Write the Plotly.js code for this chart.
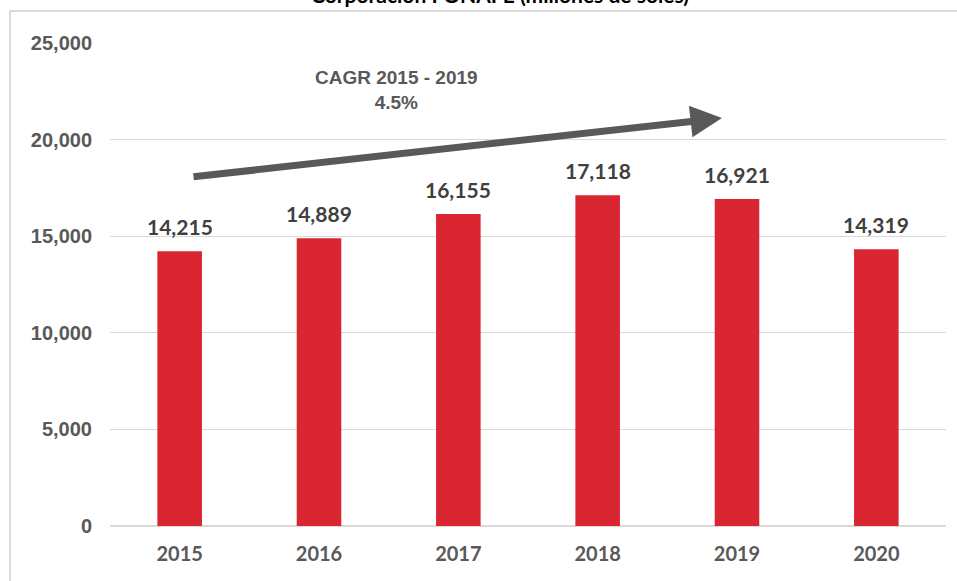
<!DOCTYPE html>
<html>
<head>
<meta charset="utf-8">
<script src="https://cdn.plot.ly/plotly-3.0.1.min.js"></script>
<style>
html,body{margin:0;padding:0;background:#fff;}
#chart{width:957px;height:581px;}
</style>
</head>
<body>
<div id="chart"></div>
<script>
const years = ["2015", "2016", "2017", "2018", "2019", "2020"];
const values = [14215, 14889, 16155, 17118, 16921, 14319];
const valueLabels = ["14,215", "14,889", "16,155", "17,118", "16,921", "14,319"];
const yTicks = [0, 5000, 10000, 15000, 20000, 25000];
const yTickLabels = ["0", "5,000", "10,000", "15,000", "20,000", "25,000"];
const titleText = "Corporación FONAFE (millones de soles)";
const cagrText = "CAGR 2015 - 2019<br>4.5%";

const humanist = "Lato, 'Open Sans', sans-serif";
const arial = "Arial, 'Liberation Sans', sans-serif";

const trace = {
  type: "bar",
  x: years,
  y: values,
  marker: {color: "#DA2532"},
  hoverinfo: "skip"
};

const annotations = years.map((yr, i) => ({
  x: i, y: values[i], xref: "x", yref: "y",
  text: valueLabels[i], showarrow: false,
  yanchor: "bottom", yshift: 10,
  font: {family: humanist, size: 21, color: "#404040", weight: "bold"}
}));

annotations.push({
  xref: "paper", yref: "paper", x: (722 - 110) / 836, y: (526 - 118) / 483,
  ax: -530, ay: 59, axref: "pixel", ayref: "pixel",
  showarrow: true, arrowhead: 2, arrowsize: 0.9, arrowwidth: 7,
  arrowcolor: "#58595B", text: ""
});
annotations.push({
  xref: "paper", yref: "paper", x: (396 - 110) / 836, y: (526 - 90) / 483,
  text: cagrText, showarrow: false, yanchor: "middle",
  font: {family: arial, size: 19, color: "#595959", weight: "bold"}
});
annotations.push({
  xref: "paper", yref: "paper", x: (500 - 110) / 836, y: (526 - 9) / 483,
  text: titleText, showarrow: false, yanchor: "bottom",
  font: {family: humanist, size: 21, color: "#000000", weight: "bold"}
});

const layout = {
  width: 957, height: 581,
  margin: {l: 110, r: 11, t: 43, b: 55},
  paper_bgcolor: "#ffffff", plot_bgcolor: "#ffffff",
  showlegend: false,
  bargap: 0.68,
  xaxis: {
    type: "category",
    range: [-0.5, years.length - 0.5],
    showgrid: false, showline: false, zeroline: false,
    ticks: "", ticklabelstandoff: 14,
    tickfont: {family: humanist, size: 20, color: "#595959", weight: "bold"}
  },
  yaxis: {
    range: [0, 25000],
    tickvals: yTicks, ticktext: yTickLabels,
    showgrid: true, gridcolor: "#D9D9D9", gridwidth: 1,
    zeroline: true, zerolinecolor: "#D9D9D9", zerolinewidth: 2,
    showline: false, ticks: "", ticklabelstandoff: 17,
    tickfont: {family: arial, size: 20, color: "#595959", weight: "bold"}
  },
  shapes: [
    {type: "line", xref: "paper", yref: "paper",
     x0: (10 - 110) / 836, x1: 1.2, y0: (526 - 11) / 483, y1: (526 - 11) / 483,
     line: {color: "#D9D9D9", width: 2}},
    {type: "line", xref: "paper", yref: "paper",
     x0: (10 - 110) / 836, x1: (10 - 110) / 836, y0: (526 - 11) / 483, y1: -0.3,
     line: {color: "#D9D9D9", width: 2}}
  ],
  annotations: annotations
};

Plotly.newPlot("chart", [trace], layout, {staticPlot: true, displayModeBar: false});
</script>
</body>
</html>
